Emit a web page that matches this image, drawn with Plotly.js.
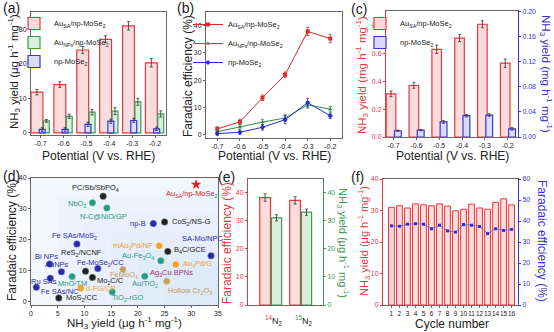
<!DOCTYPE html>
<html><head><meta charset="utf-8">
<script src="https://cdn.plot.ly/plotly-3.0.1.min.js"></script>
<style>html,body{margin:0;padding:0;background:#fff;}#chart{width:554px;height:332px;}</style>
</head><body><div id="chart"></div>
<script>
// ---------- DATA ----------
const potentials = ['-0.7','-0.6','-0.5','-0.4','-0.3','-0.2'];
const potentialValues = [-0.7,-0.6,-0.5,-0.4,-0.3,-0.2];

// (a) NH3 yield (ug h-1 mg-1)
const aYieldSA = [11.8,14.0,24.0,27.1,31.0,20.3];
const aYieldSAErr = [0.8,0.8,1.0,1.0,1.2,1.2];
const aYieldNP = [3.5,4.8,6.0,6.3,9.0,5.5];
const aYieldNPErr = [0.4,0.6,0.8,1.0,1.0,0.9];
const aYieldMo = [1.0,1.0,2.5,3.4,3.6,1.2];
const aYieldMoErr = [0.5,0.5,0.6,0.6,0.6,0.5];

// (b) Faradaic efficiency (%)
const bFESA = [2.2,4.8,13.6,22.0,37.8,35.2];
const bFESAErr = [0.8,1.0,1.0,1.0,1.5,1.5];
const bFENP = [1.2,3.0,4.7,6.2,11.0,9.4];
const bFENPErr = [0.8,0.8,1.0,1.2,1.2,1.0];
const bFEMo = [0.5,1.0,2.8,5.6,11.8,7.0];
const bFEMoErr = [0.6,0.8,1.0,1.5,1.6,1.0];

// (c) NH3 yield (mg h-1 mg-1)
const cYieldSA = [0.31,0.37,0.63,0.71,0.81,0.53];
const cYieldSAErr = [0.02,0.02,0.03,0.025,0.025,0.03];
const cYieldMo = [0.010,0.011,0.024,0.034,0.035,0.013];
const cYieldMoErr = [0.001,0.001,0.002,0.002,0.002,0.002];

// (d) comparison
const dNames = ['PC/Sb/SbPO<sub>4</sub>','NbO<sub>2</sub>','N-C@NiO/GP','np-B','CoS<sub>2</sub>/NS-G',
  'Fe SAs/MoS<sub>2</sub>','SA-Mo/NPC','mAu<sub>3</sub>Pd/NF','B<sub>4</sub>C/GCE','ReS<sub>2</sub>/NCNF',
  'Bi NPs','AuNPs','Fe-MoSe<sub>2</sub>/CC','Au-Fe<sub>3</sub>O<sub>4</sub>','FeMoO<sub>4</sub>',
  'Au<sub>4</sub>Pd/G','Ru SAs','MnO/TM','Mo<sub>2</sub>C/C','Au/TiO<sub>2</sub>',
  'Fe SAs/NC','d-FG/CP','Hollow Cr<sub>2</sub>O<sub>3</sub>','MoS<sub>2</sub>/CC','TiO<sub>2</sub>-rGO'];
const dYield = [13.5,11.5,14.2,22.9,25.0,8.6,33.7,24.0,25.6,10.2,3.5,5.7,12.5,24.3,17.2,27.1,3.6,7.7,11.5,21.3,1.0,9.3,25.4,5.2,15.2];
const dFE    = [34.1,32.0,30.3,25.3,25.8,18.7,14.9,18.1,16.3,9.9,12.2,9.7,10.8,13.3,10.5,12.1,7.6,8.2,7.9,8.3,4.7,4.4,6.7,1.3,3.2];
const dThisWorkName = 'Au<sub>SA</sub>/np-MoSe<sub>2</sub>';
const dThisWorkYield = [30.9];
const dThisWorkFE = [37.9];
const dExtraLabel = 'Ag<sub>3</sub>Cu BPNs';
const dExtraYield = 26.3, dExtraFE = 9.2;

// (e) isotope
const isotopes = ['14N2','15N2'];
const eFE = [38.2,37.2];
const eFEErr = [1.3,1.3];
const eYield = [31.0,33.0];
const eYieldErr = [1.1,1.1];

// (f) cycling
const cycles = [1,2,3,4,5,6,7,8,9,10,11,12,13,14,15,16];
const fYield = [31.0,31.5,30.8,32.1,31.8,31.5,32.1,31.4,29.9,30.4,32.0,30.8,30.4,32.6,33.7,31.8];
const fFE = [37.7,37.5,38.5,38.7,38.5,36.3,38.0,35.3,34.7,38.3,38.0,37.4,34.0,36.3,35.5,36.0];

// ---------- STYLE ----------
const W = 554, H = 332;
const F = 'Arial, "Liberation Sans", sans-serif';
const RED = '#e8383d', GREEN = '#3c9a55', BLUE = '#3535d8';
const RED_FILL = '#fcdcdc', GREEN_FILL = '#d9eedb', BLUE_FILL = '#dcdcfa';
const xd = (l, r) => [l / W, r / W];
const yd = (t, b) => [1 - b / H, 1 - t / H];
const px = x => x / W, py = y => 1 - y / H;

// d styles
const C = {k:'#222222', t:'#2a9a84', b:'#2a2aa8', o:'#f2a22c', n:'#c9a262'};
const dColor = ['k','t','t','b','k','b','b','o','k','k','b','b','b','t','n','o','b','t','k','t','b','o','n','k','t'];
// [xanchor, xshift, yshift]
const dLabelPos = [
  ['center',-8,8],['right',-4,-1],['center',-3,-8],['right',-5,0],['left',5,0],
  ['center',-2,8],['center',-9,17],['right',-4,0],['left',4,1],['center',-4,18],
  ['center',-3,8],['center',-4,7],['center',3,5],['right',-5,5],['center',1,-6],
  ['left',5,0],['center',-6,-3],['center',0,-7],['left',3,-4],['center',0,-8],
  ['left',3,-4],['left',3,0],['left',-1,-10],['left',5,0],['left',-2,-6]
];

const baseAxis = (domain, range, extra) => Object.assign({
  domain, range, showline:true, linecolor:'#666', linewidth:1, mirror:true,
  ticks:'outside', ticklen:2, tickcolor:'#666', tickwidth:1, tickangle:0,
  tickfont:{size:7, color:'#222', family:F}, showgrid:false, zeroline:false, fixedrange:true
}, extra || {});

const errDark = arr => ({type:'data', array:arr, color:'#333', thickness:0.8, width:1.5});

const traces = [];
// (a)
traces.push({type:'bar', x:potentials, y:aYieldSA, error_y:errDark(aYieldSAErr), xaxis:'x', yaxis:'y',
  offset:-0.42, width:0.52, marker:{color:RED_FILL, line:{color:RED, width:1.2}},
  name:'Au<sub>SA</sub>/np-MoSe<sub>2</sub>', legend:'legend'});
traces.push({type:'bar', x:potentials, y:aYieldNP, error_y:errDark(aYieldNPErr), xaxis:'x', yaxis:'y',
  offset:0.12, width:0.26, marker:{color:GREEN_FILL, line:{color:GREEN, width:1.2}},
  name:'Au<sub>NPs</sub>/np-MoSe<sub>2</sub>', legend:'legend'});
traces.push({type:'bar', x:potentials, y:aYieldMo, error_y:errDark(aYieldMoErr), xaxis:'x', yaxis:'y',
  offset:-0.06, width:0.26, marker:{color:BLUE_FILL, line:{color:BLUE, width:1.2}},
  name:'np-MoSe<sub>2</sub>', legend:'legend'});

// (b)
const lineTrace = (y, err, color, symbol, name) => ({type:'scatter', mode:'lines+markers', x:potentialValues, y,
  error_y:{type:'data', array:err, color, thickness:0.8, width:1.5}, xaxis:'x2', yaxis:'y2',
  line:{color, width:1}, marker:{color, symbol, size:4}, name, legend:'legend2'});
traces.push(lineTrace(bFESA, bFESAErr, '#e02828', 'square', 'Au<sub>SA</sub>/np-MoSe<sub>2</sub>'));
traces.push(lineTrace(bFENP, bFENPErr, '#2e8b4a', 'triangle-up', 'Au<sub>NPs</sub>/np-MoSe<sub>2</sub>'));
traces.push(lineTrace(bFEMo, bFEMoErr, '#2a2ad0', 'diamond', 'np-MoSe<sub>2</sub>'));

// (c)
traces.push({type:'bar', x:potentials, y:cYieldSA, error_y:errDark(cYieldSAErr), xaxis:'x3', yaxis:'y3',
  offset:-0.32, width:0.42, marker:{color:RED_FILL, line:{color:RED, width:1.2}},
  name:'Au<sub>SA</sub>/np-MoSe<sub>2</sub>', legend:'legend3'});
traces.push({type:'bar', x:potentials, y:cYieldMo, error_y:errDark(cYieldMoErr), xaxis:'x3', yaxis:'y4',
  offset:0.04, width:0.3, marker:{color:BLUE_FILL, line:{color:BLUE, width:1.2}},
  name:'np-MoSe<sub>2</sub>', legend:'legend3'});

// (d)
traces.push({type:'scatter', mode:'markers', x:dYield, y:dFE, xaxis:'x4', yaxis:'y5', showlegend:false,
  marker:{size:7, color:dColor.map(c => C[c]), line:{color:'rgba(255,255,255,0.6)', width:0.6}}});
traces.push({type:'scatter', mode:'markers', x:dThisWorkYield, y:dThisWorkFE, xaxis:'x4', yaxis:'y5', showlegend:false,
  marker:{size:8, symbol:'star', color:'#e02020'}});

// (e)
traces.push({type:'bar', x:isotopes, y:eFE, error_y:errDark(eFEErr), xaxis:'x5', yaxis:'y6', showlegend:false,
  offset:-0.46, width:0.36, marker:{color:RED_FILL, line:{color:RED, width:1.2}}});
traces.push({type:'bar', x:isotopes, y:eYield, error_y:errDark(eYieldErr), xaxis:'x5', yaxis:'y7', showlegend:false,
  offset:-0.07, width:0.34, marker:{color:GREEN_FILL, line:{color:GREEN, width:1.2}}});

// (f)
traces.push({type:'bar', x:cycles, y:fYield, xaxis:'x6', yaxis:'y8', showlegend:false,
  width:0.72, marker:{color:RED_FILL, line:{color:RED, width:1}}});
traces.push({type:'scatter', mode:'lines+markers', x:cycles, y:fFE, xaxis:'x6', yaxis:'y9', showlegend:false,
  line:{color:'#5a5ae0', width:0.8}, marker:{color:'#3030c8', size:3, symbol:'square'}});

// ---------- LAYOUT ----------
const redTick = {size:7, color:RED, family:F};
const blueTick = {size:7, color:BLUE, family:F};
const greenTick = {size:7, color:GREEN, family:F};

const layout = {
  width:W, height:H, margin:{l:0, r:0, t:0, b:0}, paper_bgcolor:'#fff', plot_bgcolor:'rgba(0,0,0,0)',
  barmode:'overlay', font:{family:F, color:'#222'}, bargap:0,
  // a
  xaxis: baseAxis(xd(31,166), [-0.42, 5.48], {anchor:'y', type:'category'}),
  yaxis: baseAxis(yd(12,135), [-0.6, 35], {anchor:'x', tickvals:[0,10,20,30]}),
  // b
  xaxis2: baseAxis(xd(206,342), [-0.75, -0.148], {anchor:'y2', tickvals:potentialValues, ticktext:potentials}),
  yaxis2: baseAxis(yd(12,138), [-1.1, 44.9], {anchor:'x2', tickvals:[0,10,20,30,40]}),
  // c
  xaxis3: baseAxis(xd(386,518), [-0.33, 5.45], {anchor:'y3', type:'category'}),
  yaxis3: baseAxis(yd(11,137), [0, 0.905], {anchor:'x3', mirror:false, linecolor:RED, tickcolor:RED, tickfont:redTick, tickvals:[0,0.2,0.4,0.6,0.8], tickformat:'.1f'}),
  yaxis4: baseAxis(yd(11,137), [0, 0.201], {anchor:'x3', overlaying:'y3', side:'right', mirror:false, linecolor:BLUE, tickcolor:BLUE, tickfont:blueTick, tickvals:[0,0.04,0.08,0.12,0.16,0.2], tickformat:'.2f'}),
  // d
  xaxis4: baseAxis(xd(31,218), [0, 35], {anchor:'y5', dtick:5}),
  yaxis5: baseAxis(yd(178,305), [-1, 40], {anchor:'x4', dtick:10}),
  // e
  xaxis5: baseAxis(xd(248,323), [-0.85, 1.65], {anchor:'y6', type:'category', ticks:'', ticklabelstandoff:7,
    tickvals:isotopes, tickfont:{size:9, color:'#222', family:F},
    ticktext:['<span style="color:#e8383d"><sup>14</sup></span>N<sub>2</sub>','<span style="color:#3c9a55"><sup>15</sup></span>N<sub>2</sub>']}),
  yaxis6: baseAxis(yd(179,305), [0, 44.8], {anchor:'x5', mirror:false, linecolor:RED, tickcolor:RED, tickfont:redTick, dtick:10}),
  yaxis7: baseAxis(yd(179,305), [0, 44.8], {anchor:'x5', overlaying:'y6', side:'right', mirror:false, linecolor:GREEN, tickcolor:GREEN, tickfont:greenTick, dtick:10}),
  // f
  xaxis6: baseAxis(xd(383,518), [-0.05, 16.8], {anchor:'y8', tickvals:cycles, tickfont:{size:6.5, color:'#222', family:F}}),
  yaxis8: baseAxis(yd(179,305), [0, 40], {anchor:'x6', mirror:false, linecolor:RED, tickcolor:RED, tickfont:redTick, dtick:10}),
  yaxis9: baseAxis(yd(179,305), [0, 60], {anchor:'x6', overlaying:'y8', side:'right', mirror:false, linecolor:BLUE, tickcolor:BLUE, tickfont:blueTick, dtick:10}),
  legend: {x:px(14), y:py(9), xanchor:'left', yanchor:'top', bgcolor:'rgba(0,0,0,0)', font:{size:7.5, family:F, color:'#222'}, itemwidth:30, tracegroupgap:0},
  legend2: {x:px(188), y:py(10), xanchor:'left', yanchor:'top', bgcolor:'rgba(0,0,0,0)', font:{size:7.5, family:F, color:'#222'}, itemwidth:30},
  legend3: {x:px(360), y:py(9), xanchor:'left', yanchor:'top', bgcolor:'rgba(0,0,0,0)', font:{size:7.5, family:F, color:'#222'}, itemwidth:30},
  shapes: [], annotations: []
};

// d background (soft gradient)
layout.shapes.push({type:'rect', xref:'x4 domain', yref:'y5 domain', x0:0, x1:1, y0:0, y1:1, layer:'below', line:{width:0}, fillcolor:'#f7f9fe'});
for (let i = 0; i < 6; i++) {
  layout.shapes.push({type:'rect', xref:'x4 domain', yref:'y5 domain', x0:i/7, x1:1, y0:0, y1:1 - i/7, layer:'below', line:{width:0}, fillcolor:'rgba(190,208,245,0.07)'});
}

const ann = (text, x, y, opts) => layout.annotations.push(Object.assign({text, x:px(x), y:py(y), xref:'paper', yref:'paper', showarrow:false, xanchor:'center', yanchor:'middle', font:{size:12, family:F, color:'#222'}}, opts || {}));

// panel letters
ann('(a)', 11, 8, {font:{size:14, family:F, color:'#222'}});
ann('(b)', 185, 8, {font:{size:14, family:F, color:'#222'}});
ann('(c)', 359, 9, {font:{size:14, family:F, color:'#222'}});
ann('(d)', 11, 176, {font:{size:14, family:F, color:'#222'}});
ann('(e)', 226, 177, {font:{size:14, family:F, color:'#222'}});
ann('(f)', 357, 177, {font:{size:14, family:F, color:'#222'}});

// axis titles
ann('NH<sub>3</sub> yield (μg h<sup>-1</sup> mg<sup>-1</sup>)', 14, 72, {textangle:-90, font:{size:11.5, family:F, color:'#222'}});
ann('Potential (V vs. RHE)', 98, 156);
ann('Faradaic efficiency (%)', 188, 76, {textangle:-90, font:{size:12, family:F, color:'#222'}});
ann('Potential (V vs. RHE)', 274, 156);
ann('NH<sub>3</sub> yield (mg h<sup>-1</sup> mg<sup>-1</sup>)', 362, 75, {textangle:-90, font:{size:11.5, family:F, color:RED}});
ann('NH<sub>3</sub> yield (mg h<sup>-1</sup> mg<sup>-1</sup>)', 546, 74, {textangle:90, font:{size:11.5, family:F, color:BLUE}});
ann('Potential (V vs. RHE)', 452, 156);
ann('Faradaic efficiency (%)', 12, 240, {textangle:-90, font:{size:12, family:F, color:'#222'}});
ann('NH<sub>3</sub> yield (μg h<sup>-1</sup> mg<sup>-1</sup>)', 124, 323, {font:{size:11.5, family:F, color:'#222'}});
ann('Faradaic efficiency (%)', 227, 243, {textangle:-90, font:{size:12, family:F, color:RED}});
ann('NH<sub>3</sub> yield (μg h<sup>-1</sup> mg<sup>-1</sup>)', 343, 243, {textangle:90, font:{size:11, family:F, color:GREEN}});
ann('NH<sub>3</sub> yield (μg h<sup>-1</sup> mg<sup>-1</sup>)', 364, 241, {textangle:-90, font:{size:11, family:F, color:RED}});
ann('Faradaic efficiency (%)', 542, 241, {textangle:90, font:{size:12, family:F, color:BLUE}});
ann('Cycle number', 452, 324);

// d point labels
const TC = {k:'#222222', t:'#2a9a84', b:'#2a2aa8', o:'#f0a030', n:'#c29a5a'};
dNames.forEach((name, i) => {
  const p = dLabelPos[i];
  layout.annotations.push({text:name, x:dYield[i], y:dFE[i], xref:'x4', yref:'y5', showarrow:false,
    xanchor:p[0], yanchor:'middle', xshift:p[1], yshift:p[2], font:{size:7.5, family:F, color:TC[dColor[i]]}});
});
layout.annotations.push({text:dThisWorkName, x:dThisWorkYield[0], y:dThisWorkFE[0], xref:'x4', yref:'y5', showarrow:false,
  xanchor:'center', yanchor:'middle', xshift:-4, yshift:-9, font:{size:7.5, family:F, color:'#e02020'}});
layout.annotations.push({text:dExtraLabel, x:dExtraYield, y:dExtraFE, xref:'x4', yref:'y5', showarrow:false,
  xanchor:'center', yanchor:'middle', font:{size:7.5, family:F, color:'#a8307e'}});

Plotly.newPlot('chart', traces, layout, {staticPlot:true, displayModeBar:false});
</script></body></html>
